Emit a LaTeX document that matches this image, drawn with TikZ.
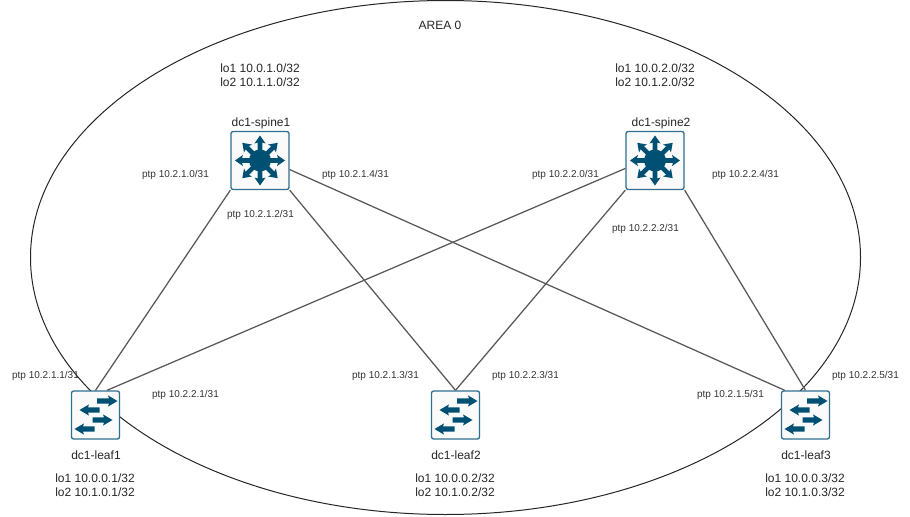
\documentclass[tikz,border=0pt]{standalone}
\usepackage{fontspec}
\setmainfont{Liberation Sans}
\usetikzlibrary{shapes.geometric}
\definecolor{dev}{HTML}{005073}
\definecolor{devb}{HTML}{2F6F8F}
\definecolor{lnk}{HTML}{595959}
\tikzset{
  x=0.75pt,y=-0.75pt,
  ptp/.style={font=\fontsize{7.5}{9}\selectfont,text=black!80,inner sep=0pt},
  lbl/.style={font=\fontsize{9}{10.5}\selectfont,text=black!85,inner sep=0pt,align=center},
  swbox/.style={draw=devb,line width=1pt,fill=black!2,rounded corners=1.6pt,minimum size=36pt,inner sep=0pt},
  spbox/.style={draw=devb,line width=1pt,fill=black!2,rounded corners=1.6pt,minimum size=43.5pt,inner sep=0pt},
  link/.style={draw=lnk,line width=0.95pt},
  area/.style={draw=black!85,line width=0.75pt,ellipse,inner sep=0pt}
}
% #1 start, #2 angle, #3 length, #4 head length, #5 head half width, #6 shaft half width
\newcommand{\fatarrow}[6]{%
  \begin{scope}[shift={(#1)},rotate=#2]
    \fill[dev] (0,-#6) -- (#3-#4+1,-#6) -- (#3-#4,-#5) -- (#3,0) -- (#3-#4,#5) -- (#3-#4+1,#6) -- (0,#6) -- cycle;
  \end{scope}}
\newcommand{\leaficon}[1]{%
  \begin{scope}[shift={(#1.center)}]
    \fatarrow{1.5,-14}{0}{20.5}{9.5}{5.6}{2.7}
    \fatarrow{4,-5}{180}{20}{9.5}{5.6}{2.7}
    \fatarrow{-3,5}{0}{20}{9.5}{5.6}{2.7}
    \fatarrow{-1,14}{180}{20}{9.5}{5.6}{2.7}
  \end{scope}}
\newcommand{\spineicon}[1]{%
  \begin{scope}[shift={(#1.center)}]
    \foreach \a in {0,45,...,315}{\fatarrow{0,0}{\a}{25}{8}{5.6}{2.3}}
    \fill[dev] (0,0) circle (11);
  \end{scope}}
\begin{document}
\begin{tikzpicture}
\useasboundingbox (0,0) rectangle (910,517);
\node[area,minimum width=622.5pt,minimum height=385.5pt] (zone) at (445.5,257.5) {};
\coordinate (s1c) at (260,160.5);
\coordinate (s2c) at (655,160.5);
\node[spbox] (spine1) at (s1c) {};
\node[spbox] (spine2) at (s2c) {};
\node[swbox] (leaf1) at (95.5,415) {};
\node[swbox] (leaf2) at (455.5,415) {};
\node[swbox] (leaf3) at (805.5,415) {};
\draw[link] (spine1.-135) -- (leaf1.north);
\draw[link] (spine1.-45) -- (leaf2.north);
\draw[link] (spine1.-17) -- (leaf3.130);
\draw[link] (spine2.-165) -- (leaf1.65);
\draw[link] (spine2.-135) -- (leaf2.north);
\draw[link] (spine2.-45) -- (leaf3.north);
\spineicon{spine1}\spineicon{spine2}
\leaficon{leaf1}\leaficon{leaf2}\leaficon{leaf3}
\node[lbl] (t0) at (440,25) {AREA 0};
\node[lbl] (n1) at (261,123) {dc1-spine1};
\node[lbl] (n2) at (661,123) {dc1-spine2};
\node[lbl] (n3) at (96,455) {dc1-leaf1};
\node[lbl] (n4) at (456,455) {dc1-leaf2};
\node[lbl] (n5) at (806,455) {dc1-leaf3};
\node[lbl] (a1) at (260,75) {lo1 10.0.1.0/32\\lo2 10.1.1.0/32};
\node[lbl] (a2) at (655,75) {lo1 10.0.2.0/32\\lo2 10.1.2.0/32};
\node[lbl] (a3) at (95,485) {lo1 10.0.0.1/32\\lo2 10.1.0.1/32};
\node[lbl] (a4) at (455,485) {lo1 10.0.0.2/32\\lo2 10.1.0.2/32};
\node[lbl] (a5) at (805,485) {lo1 10.0.0.3/32\\lo2 10.1.0.3/32};
\node[ptp] (p1) at (175.5,175) {ptp 10.2.1.0/31};
\node[ptp] (p2) at (260.5,215) {ptp 10.2.1.2/31};
\node[ptp] (p3) at (355.5,175) {ptp 10.2.1.4/31};
\node[ptp] (p4) at (565.5,175) {ptp 10.2.2.0/31};
\node[ptp] (p5) at (645.5,229) {ptp 10.2.2.2/31};
\node[ptp] (p6) at (745.5,175) {ptp 10.2.2.4/31};
\node[ptp] (p7) at (45.5,376) {ptp 10.2.1.1/31};
\node[ptp] (p8) at (185.5,395) {ptp 10.2.2.1/31};
\node[ptp] (p9) at (385.5,376) {ptp 10.2.1.3/31};
\node[ptp] (p10) at (525.5,376) {ptp 10.2.2.3/31};
\node[ptp] (p11) at (730.5,395) {ptp 10.2.1.5/31};
\node[ptp] (p12) at (865.5,376) {ptp 10.2.2.5/31};
\end{tikzpicture}
\end{document}
